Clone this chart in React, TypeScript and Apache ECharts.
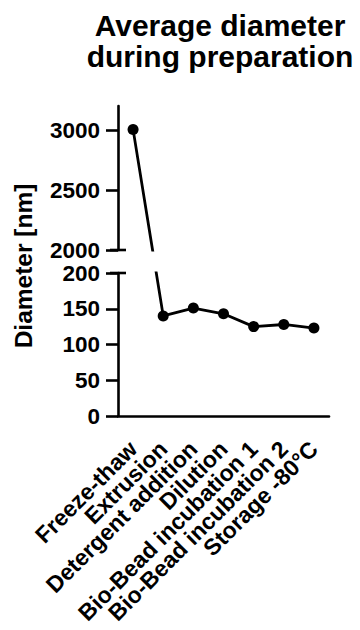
import React, { useEffect, useRef } from "react";
import * as echarts from "echarts";

// ---- data ----
const categories = [
  "Freeze-thaw",
  "Extrusion",
  "Detergent addition",
  "Dilution",
  "Bio-Bead incubation 1",
  "Bio-Bead incubation 2",
  "Storage -80°C",
];
const diameters = [3005, 140, 151, 143, 125, 128, 123];
const upperTicks = [2000, 2500, 3000];
const lowerTicks = [0, 50, 100, 150, 200];

// ---- layout ----
const FONT = "'Liberation Sans', Arial, Helvetica, sans-serif";
const LEFT = 118;
const PLOT_W = 211;
const UPPER_TOP = 106;
const UPPER_H = 144;
const LOWER_TOP = 273;
const LOWER_H = 143;
const UPPER_MIN = 2000;
const UPPER_MAX = 3200;
const LOWER_MIN = 0;
const LOWER_MAX = 200;
const GAP_PX = LOWER_TOP - (UPPER_TOP + UPPER_H);
const LOWER_PPU = LOWER_H / (LOWER_MAX - LOWER_MIN);
const UPPER_PPU = UPPER_H / (UPPER_MAX - UPPER_MIN);

// maps a real value onto the continuous (broken) display scale
const toDisplay = (v: number) =>
  v <= LOWER_MAX
    ? v
    : LOWER_MAX + GAP_PX / LOWER_PPU + ((v - UPPER_MIN) * UPPER_PPU) / LOWER_PPU;

const AXIS_W = 2.6;
const labelStyle = {
  color: "#000",
  fontFamily: FONT,
  fontWeight: "bold" as const,
  fontSize: 22.5,
};
const plain = (v: number) => String(v);

export default function App() {
  const ref = useRef<HTMLDivElement>(null);
  useEffect(() => {
    if (!ref.current) return;
    const chart = echarts.init(ref.current, undefined, { renderer: "svg" });
    const displayData = diameters.map(toDisplay);
    const lineSeries = {
      type: "line" as const,
      data: displayData,
      symbol: "circle",
      symbolSize: 11,
      clip: true,
      itemStyle: { color: "#000" },
      lineStyle: { color: "#000", width: 2.8 },
    };
    chart.setOption({
      animation: false,
      title: {
        text: "Average diameter\nduring preparation",
        left: 215,
        top: 5,
        textAlign: "center",
        textStyle: {
          color: "#000",
          fontFamily: FONT,
          fontWeight: "bold",
          fontSize: 30,
          lineHeight: 31,
        },
      },
      grid: [
        { left: LEFT, top: UPPER_TOP, width: PLOT_W, height: UPPER_H, outerBoundsMode: "none", containLabel: false },
        { left: LEFT, top: LOWER_TOP, width: PLOT_W, height: LOWER_H, outerBoundsMode: "none", containLabel: false },
      ],
      xAxis: [
        { gridIndex: 0, type: "category", data: categories, show: false },
        {
          gridIndex: 1,
          type: "category",
          data: categories,
          axisLine: { lineStyle: { color: "#000", width: AXIS_W } },
          axisTick: {
            alignWithLabel: true,
            length: 12,
            lineStyle: { color: "#000", width: AXIS_W },
          },
          axisLabel: { ...labelStyle, fontSize: 23, rotate: 45, interval: 0, margin: 29 },
        },
      ],
      yAxis: [
        {
          gridIndex: 0,
          type: "value",
          min: UPPER_MIN,
          max: UPPER_MAX,
          interval: 500,
          splitLine: { show: false },
          axisLine: { show: true, lineStyle: { color: "#000", width: AXIS_W } },
          axisTick: {
            show: true,
            length: 12,
            customValues: upperTicks,
            lineStyle: { color: "#000", width: AXIS_W },
          },
          axisLabel: { ...labelStyle, lineHeight: 18, margin: 18, customValues: upperTicks, formatter: plain },
        },
        {
          gridIndex: 1,
          type: "value",
          min: LOWER_MIN,
          max: LOWER_MAX,
          interval: 50,
          splitLine: { show: false },
          axisLine: { show: true, lineStyle: { color: "#000", width: AXIS_W } },
          axisTick: {
            show: true,
            length: 12,
            customValues: lowerTicks,
            lineStyle: { color: "#000", width: AXIS_W },
          },
          axisLabel: { ...labelStyle, lineHeight: 18, margin: 18, customValues: lowerTicks, formatter: plain },
        },
        {
          gridIndex: 0,
          type: "value",
          show: false,
          min: toDisplay(UPPER_MIN),
          max: toDisplay(UPPER_MAX),
          splitLine: { show: false },
        },
      ],
      series: [
        { ...lineSeries, xAxisIndex: 0, yAxisIndex: 2 },
        { ...lineSeries, xAxisIndex: 1, yAxisIndex: 1 },
      ],
      graphic: [
        {
          type: "line",
          shape: { x1: LEFT - 8, y1: UPPER_TOP + UPPER_H, x2: LEFT + 8, y2: UPPER_TOP + UPPER_H },
          style: { stroke: "#000", lineWidth: AXIS_W },
        },
        {
          type: "line",
          shape: { x1: LEFT - 8, y1: LOWER_TOP, x2: LEFT + 8, y2: LOWER_TOP },
          style: { stroke: "#000", lineWidth: AXIS_W },
        },
        {
          type: "text",
          x: 23,
          y: 266,
          rotation: Math.PI / 2,
          style: {
            text: "Diameter [nm]",
            fill: "#000",
            fontFamily: FONT,
            fontWeight: "bold",
            fontSize: 24.5,
            textAlign: "center",
            textVerticalAlign: "middle",
          },
        },
      ],
    });
    return () => chart.dispose();
  }, []);
  return (
    <div
      ref={ref}
      style={{ position: "fixed", left: 0, top: 0, width: 360, height: 630, background: "#fff" }}
    />
  );
}
